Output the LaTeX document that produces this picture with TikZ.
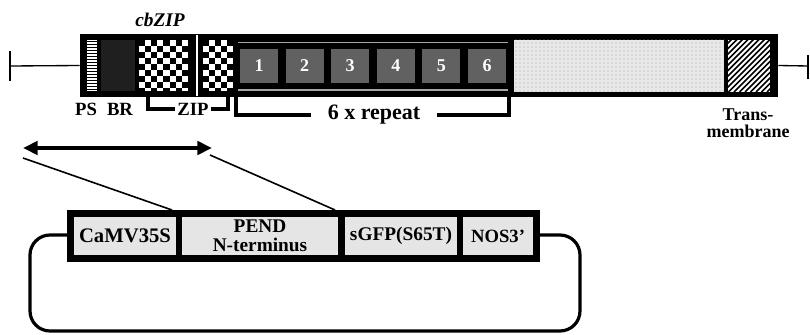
\documentclass[tikz,border=0pt]{standalone}
\usepackage{fontspec}
\setmainfont{Liberation Serif}
\usetikzlibrary{fit,arrows.meta,patterns}
\begin{document}
\begin{tikzpicture}[x=0.75pt,y=-0.75pt,
  lbl/.style={font=\fontsize{14}{15}\selectfont\bfseries, inner sep=0pt},
  cell/.style={fill=black!10, draw=none, inner sep=0pt, font=\fontsize{14.5}{15}\selectfont\bfseries, align=center},
  numbox/.style={fill=black!62, draw=none, inner sep=0pt, minimum width=28.5pt, minimum height=25.5pt, text=white, font=\fontsize{13.5}{14}\selectfont\bfseries},
  blk/.style={fill=black, draw=none, inner sep=0pt},
  brk/.style={line width=3pt, draw=black},
  thin/.style={line width=1pt, draw=black},
  loopline/.style={line width=2.4pt, draw=black, rounded corners=15pt},
  sep/.style={line width=0.8pt, draw=black!35}
]
\useasboundingbox (0,0) rectangle (810,335);

% ---------- protein bar ----------
\coordinate (lt) at (10,66);
\coordinate (rt) at (808,66);
\node[blk, fit={(80,34) (778,97)}] (bar) {};
\draw[thin] (lt) -- (bar.west);
\draw[thin] (10,51) -- (10,81);
\draw[thin] (bar.east) -- (rt);
\draw[thin] (808,55) -- (808,79);

% separator line
\draw[white, line width=0.8pt] (197,35) -- (197,96);

% PS stripes
\node[fill=white, inner sep=0pt, fit={(87,40) (97,91)}] (ps) {};
\foreach \k in {0,...,16} { \draw[black, line width=1.1pt] (87,41.5+3*\k) -- (97,41.5+3*\k); }

% BR
\node[fill=black!88, inner sep=0pt, fit={(101,40) (135,91)}] (br) {};

% checkers
\node[fill=white, inner sep=0pt, fit={(139,40) (188,91)}] (ck1) {};
\begin{scope}
  \clip (139,40) rectangle (188,91);
  \foreach \i in {0,...,8} { \foreach \j in {0,...,8} {
    \pgfmathtruncatemacro\mm{mod(\i+\j,2)}
    \ifnum\mm=0 \fill[black] (139+6.1*\i,40+6*\j) rectangle +(6.1,6); \fi
  }}
\end{scope}
\node[fill=white, inner sep=0pt, fit={(203,40) (233,91)}] (ck2) {};
\begin{scope}
  \clip (203,40) rectangle (233,91);
  \foreach \i in {0,...,5} { \foreach \j in {0,...,8} {
    \pgfmathtruncatemacro\mm{mod(\i+\j,2)}
    \ifnum\mm=0 \fill[black] (203+6*\i,40+6*\j) rectangle +(6,6); \fi
  }}
\end{scope}

% repeat region
\draw[sep] (238,42.5) -- (508,42.5);
\draw[sep] (238,90) -- (508,90);
\foreach \i in {1,...,6} {
  \node[numbox] (r\i) at ({259+45.6*(\i-1)},66) {\i};
}

% dotted region
\node[fill=black!9, inner sep=0pt, fit={(514,40) (724,92)}] (dot) {};
\fill[pattern=dots, pattern color=black!35] (514,40) rectangle (724,92);

% hatched region
\node[fill=white, inner sep=0pt, fit={(728,40) (770,92)}] (tm) {};
\begin{scope}
  \clip (728,40) rectangle (770,92);
  \foreach \k in {0,...,20} { \draw[black, line width=1.1pt] (728-60+5.5*\k,92) -- ++(60,-60); }
\end{scope}

% labels
\node[font=\fontsize{14.5}{15}\selectfont\bfseries\itshape, inner sep=0pt] (cbzip) at (160,20) {cbZIP};
\node[lbl] (pslbl) at (86,109) {PS};
\node[lbl] (brlbl) at (120,109) {BR};
\node[lbl, inner xsep=2pt] (zip) at (193,109) {ZIP};
\draw[brk] (148,97) |- (zip.west);
\draw[brk] (zip.east) -| (228,97);
\node[font=\fontsize{16.5}{18}\selectfont\bfseries, inner ysep=0pt, inner xsep=12.5pt] (rep) at (374,115) {6 x repeat};
\draw[brk] (236,97) |- (rep.west);
\draw[brk] (rep.east) -| (509,97);
\node[lbl, align=center, font=\fontsize{13.5}{13}\selectfont\bfseries] (tmlbl) at (748,123) {Trans-\\membrane};

% ---------- arrow and lines ----------
\coordinate (aL) at (23,148);
\coordinate (aR) at (212,148);
\draw[line width=3pt, {Triangle[length=11pt,width=10pt]}-{Triangle[length=11pt,width=10pt]}] (aL) -- (aR);
\coordinate (l1s) at (23,158);
\coordinate (l2s) at (210,155);

% ---------- plasmid ----------
\node[blk, fit={(67,210) (540,262)}] (plas) {};
\node[cell, fit={(74,217) (176,255)}] (camc) {};
\node[font=\fontsize{15.5}{16}\selectfont\bfseries] (cam) at (camc.center) {CaMV35S};
\node[cell, fit={(182,217) (338,255)}] (pendc) {};
\node[font=\fontsize{14.5}{14}\selectfont\bfseries, align=center, inner sep=0pt] (pend) at (pendc.center) {PEND\\N-terminus};
\node[cell, fit={(345,217) (457,255)}] (gfpc) {};
\node[font=\fontsize{14.5}{15}\selectfont\bfseries] (gfp) at (gfpc.center) {sGFP(S65T)};
\node[cell, fit={(463,217) (533,255)}] (nosc) {};
\node[font=\fontsize{14}{15}\selectfont\bfseries] (nos) at (nosc.center) {NOS3\char"0027};

\coordinate (j1) at (172,210);
\coordinate (j2) at (335,210);
\draw[line width=1.2pt] (l1s) -- (j1);
\draw[line width=1.2pt] (l2s) -- (j2);

\coordinate (pl) at (67,235);
\coordinate (pr) at (540,235);
\draw[loopline] (pl) -- (30,235) -- (30,331) -- (580,331) -- (580,235) -- (pr);
\end{tikzpicture}
\end{document}
